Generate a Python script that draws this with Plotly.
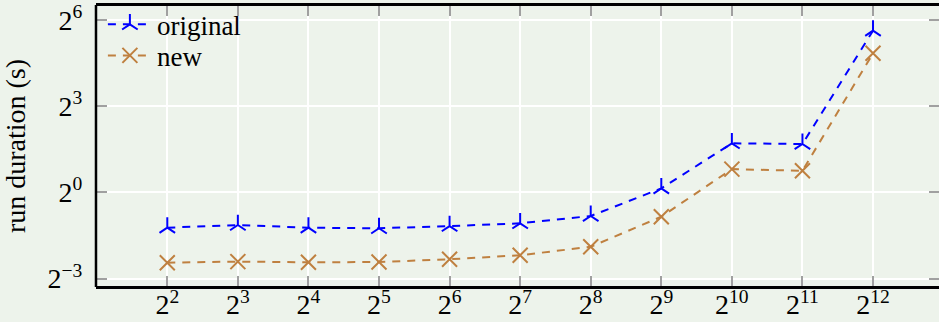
import math
import plotly.graph_objects as go

# ---- data ----
sizes = [2**k for k in range(2, 13)]
original = [0.426, 0.454, 0.426, 0.420, 0.443, 0.473, 0.565, 1.10, 3.26, 3.21, 49.4]
new = [0.183, 0.188, 0.185, 0.186, 0.199, 0.219, 0.269, 0.555, 1.75, 1.68, 28.6]
x_exps = list(range(2, 13))
y_exps = [-3, 0, 3, 6]
x_tickvals = [2**k for k in x_exps]
x_ticktext = [f"2<sup>{k}</sup>" for k in x_exps]
y_tickvals = [2.0**k for k in y_exps]
y_ticktext = [f"2<sup>{str(k).replace('-', '−')}</sup>" for k in y_exps]

BG = "#EDF3EB"
BLUE = "#0000FF"
BROWN = "#BF8040"
FONT = "Liberation Serif"
FS = 28
L2 = math.log10(2)

fig = go.Figure()
fig.add_trace(go.Scatter(
    x=sizes, y=original, name="original", mode="lines+markers", legend="legend",
    line=dict(color=BLUE, width=2, dash="8px,7px"),
    marker=dict(symbol="y-up", size=13, color=BLUE, line=dict(color=BLUE, width=2)),
))
fig.add_trace(go.Scatter(
    x=sizes, y=new, name="new", mode="lines+markers", legend="legend2",
    line=dict(color=BROWN, width=2, dash="8px,7px"),
    marker=dict(symbol="x-thin", size=15, color=BROWN, line=dict(color=BROWN, width=2)),
))

axis_common = dict(
    showgrid=True, gridcolor="white", gridwidth=1.5,
    showline=True, mirror="ticks",
    ticks="inside", ticklen=10, tickwidth=1.5, tickcolor="#A0A0A0",
    tickfont=dict(family=FONT, size=FS, color="black"),
    zeroline=False, automargin=False,
)

fig.update_xaxes(
    type="log", range=[1.004 * L2, 12.935 * L2],
    tickvals=x_tickvals, ticktext=x_ticktext, ticklabelstandoff=-8,
    linecolor="black", linewidth=2.5,
    **axis_common,
)
fig.update_yaxes(
    type="log", range=[-3.261 * L2, 6.485 * L2],
    tickvals=y_tickvals, ticktext=y_ticktext, ticklabelstandoff=8,
    linecolor=BG, linewidth=1,
    title=dict(text="run duration (s)", font=dict(family=FONT, size=FS, color="black"), standoff=17),
    **axis_common,
)

# left frame line (right frame lies outside the visible area in the reference)
fig.add_shape(type="line", xref="paper", yref="paper", x0=-0.0012, x1=-0.0012,
              y0=-0.004, y1=1.004, line=dict(color="black", width=2.5), layer="above")

legend_common = dict(
    x=0.007, xanchor="left", yanchor="middle",
    bgcolor="rgba(0,0,0,0)", borderwidth=0,
    font=dict(family=FONT, size=27, color="black"),
    tracegroupgap=0, itemwidth=44,
)

fig.update_layout(
    template="none",
    width=939, height=322,
    margin=dict(l=97, r=0, t=6, b=36, autoexpand=False),
    paper_bgcolor=BG, plot_bgcolor=BG,
    font=dict(family=FONT, size=FS, color="black"),
    showlegend=True,
    legend=dict(y=0.933, **legend_common),
    legend2=dict(y=0.822, **legend_common),
)

fig.write_html(
    "out.html",
    config={"displayModeBar": False},
    post_script="document.body.style.margin='0';document.body.style.overflow='hidden';",
)
